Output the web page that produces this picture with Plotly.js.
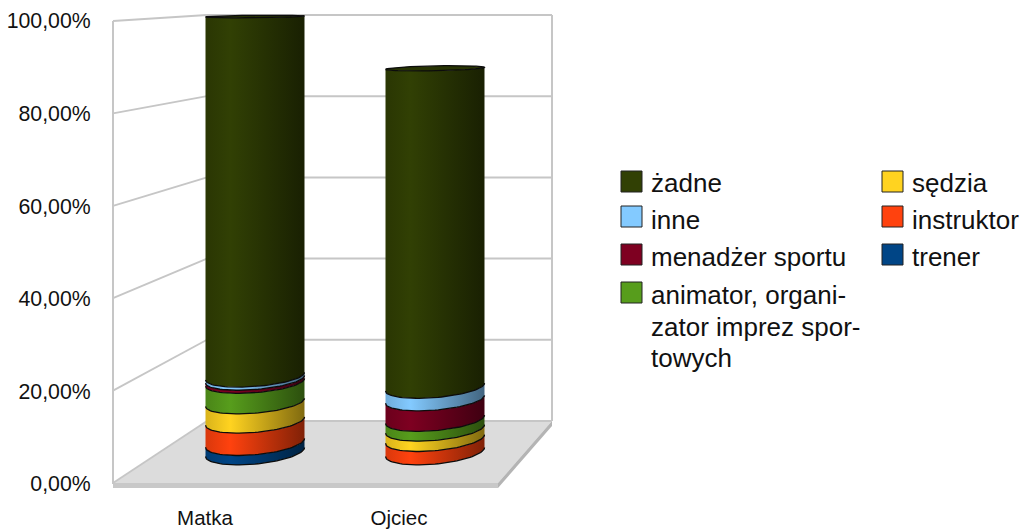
<!DOCTYPE html>
<html>
<head>
<meta charset="utf-8">
<script src="https://cdn.plot.ly/plotly-3.0.1.min.js"></script>
<style>html,body{margin:0;padding:0;background:#fff}</style>
</head>
<body>
<div id="chart" style="width:1023px;height:529px"></div>
<script>
// ---- data ----
const categories = ["Matka", "Ojciec"];
const tickValues = [0, 20, 40, 60, 80, 100];
const tickLabels = ["0,00%", "20,00%", "40,00%", "60,00%", "80,00%", "100,00%"];
const trener     = [2.1, 0];
const instruktor = [5.0, 3.0];
const sedzia     = [4.3, 2.3];
const animator   = [4.6, 2.2];
const menadzer   = [0.7, 4.6];
const inne       = [0.7, 2.8];
const zadne      = [82.6, 73.2];

const seriesNames = ["trener", "instruktor", "sędzia", "animator, organizator imprez sportowych", "menadżer sportu", "inne", "żadne"];
const seriesValues = [trener, instruktor, sedzia, animator, menadzer, inne, zadne];
const seriesColors = ["#004586", "#ff420e", "#ffd320", "#579d1c", "#7e0021", "#83caff", "#314004"];

// ---- page geometry ----
const W = 1023, H = 529;
const px = x => x / W;
const py = y => 1 - y / H;
const FONT = '"Liberation Sans", Arial, sans-serif';
const GRID = "#c6c6c6";

function shade(hex, f) {
  const n = parseInt(hex.slice(1), 16);
  const c = [n >> 16, (n >> 8) & 255, n & 255].map(v => Math.round(v * f));
  return `rgb(${c[0]},${c[1]},${c[2]})`;
}

// cylinder perspective, in value units of the bar axis
const BASE_PX = 452, TOP_PX = 16.5;
const UNIT = (BASE_PX - TOP_PX) / 100;
const halfWidth = 0.275;
const minor = v => (1.2 + (100 - v) * UNIT * 0.025) / UNIT;
const skew = v => (1 + 0.08 * (100 - v)) / UNIT;
const TS = [];
for (let i = 0; i <= 48; i++) TS.push(-Math.cos(Math.PI * i / 48));

function arc(cat, v, sign) {
  const xs = [], ys = [];
  TS.forEach(t => {
    xs.push(cat + t * halfWidth);
    ys.push(v + skew(v) * t / 2 + sign * minor(v) * Math.sqrt(1 - t * t));
  });
  return {xs, ys};
}

const traces = [];
// helper trace carrying the category axis and value axis ticks
traces.push({x: categories, y: [0, 0], xaxis: "x", yaxis: "y", type: "scatter", mode: "markers",
  marker: {opacity: 0, size: 1}, showlegend: false, hoverinfo: "skip"});

categories.forEach((cat, ci) => {
  let base = 0;
  seriesValues.forEach((vals, si) => {
    const v = vals[ci];
    if (v <= 0) return;
    const top = base + v;
    const lo = arc(ci, base, -1), hi = arc(ci, top, -1);
    const c = seriesColors[si];
    traces.push({
      x: lo.xs.concat(hi.xs.slice().reverse()), y: lo.ys.concat(hi.ys.slice().reverse()),
      xaxis: "x2", yaxis: "y2", type: "scatter", mode: "lines", fill: "toself",
      line: {width: 0, color: c},
      fillgradient: {type: "horizontal", colorscale: [[0, shade(c, 0.85)], [0.25, shade(c, 1)], [1, shade(c, 0.5)]]},
      name: seriesNames[si] + " – " + cat, showlegend: false, hoverinfo: "name"
    });
    traces.push({
      x: lo.xs, y: lo.ys, xaxis: "x2", yaxis: "y2", type: "scatter", mode: "lines",
      line: {width: 1.3, color: "#0c0c0c"}, showlegend: false, hoverinfo: "skip"
    });
    base = top;
  });
  // top cap
  const lower = arc(ci, base, -1), upper = arc(ci, base, 1);
  traces.push({
    x: lower.xs.concat(upper.xs.slice().reverse()), y: lower.ys.concat(upper.ys.slice().reverse()),
    xaxis: "x2", yaxis: "y2", type: "scatter", mode: "lines", fill: "toself",
    line: {width: 1.3, color: "#0c0c0c"}, fillcolor: shade(seriesColors[6], 0.8),
    showlegend: false, hoverinfo: "skip"
  });
});

// ---- chart walls and floor ----
const shapes = [];
const path = (pts, close) => "M" + pts.map(p => px(p[0]) + "," + py(p[1])).join("L") + (close ? "Z" : "");
const addPoly = (pts, fill) => shapes.push({type: "path", xref: "paper", yref: "paper", layer: "below",
  path: path(pts, true), fillcolor: fill, line: {width: 0}});
const addLine = (pts, color, width) => shapes.push({type: "path", xref: "paper", yref: "paper", layer: "below",
  path: path(pts, false), line: {color, width}});

addPoly([[113, 483], [207, 421], [552, 421], [498, 483]], "#dcdcdc");
addPoly([[113, 483], [498, 483], [498, 488], [113, 488]], "#c8c8c8");
addPoly([[498, 483], [552, 421], [552, 426], [498, 488]], "#b4b4b4");
tickValues.forEach(v => {
  const yFront = 483 - v * 4.62, yBack = 421 - v * 4.06;
  addLine([[113, yFront], [207, yBack]], GRID, 1.8);
  addLine([[207, yBack], [552, yBack]], GRID, 2);
});
addLine([[113, 21], [113, 484]], GRID, 2);
addLine([[552, 15], [552, 421]], GRID, 2);

// ---- legend ----
const legendRows = [
  {s: 6, x: 621, y: 171, tx: 650, ty: 183, lines: ["żadne"]},
  {s: 5, x: 621, y: 206, tx: 650, ty: 220, lines: ["inne"]},
  {s: 4, x: 621, y: 244, tx: 650, ty: 257, lines: ["menadżer sportu"]},
  {s: 3, x: 621, y: 282, tx: 650, ty: 295, lines: ["animator, organi-", "zator imprez spor-", "towych"]},
  {s: 2, x: 882, y: 171, tx: 911, ty: 183, lines: ["sędzia"]},
  {s: 1, x: 882, y: 206, tx: 911, ty: 220, lines: ["instruktor"]},
  {s: 0, x: 882, y: 244, tx: 911, ty: 257, lines: ["trener"]}
];
const annotations = [];
legendRows.forEach(r => {
  shapes.push({type: "rect", xref: "paper", yref: "paper",
    x0: px(r.x), x1: px(r.x + 21), y0: py(r.y), y1: py(r.y + 21),
    fillcolor: seriesColors[r.s], line: {color: "#222", width: 1}});
  r.lines.forEach((line, i) => annotations.push({xref: "paper", yref: "paper",
    x: px(r.tx), y: py(r.ty + i * 31.5),
    xanchor: "left", yanchor: "middle", align: "left", showarrow: false, text: line,
    borderpad: 0, font: {family: FONT, size: 26, color: "#111"}}));
});

const layout = {
  width: W, height: H, autosize: false,
  margin: {l: 0, r: 0, t: 0, b: 0},
  paper_bgcolor: "#fff", plot_bgcolor: "rgba(0,0,0,0)",
  showlegend: false,
  xaxis: {type: "category", categoryarray: categories, categoryorder: "array", range: [-0.5, 1.5],
    domain: [px(108), px(496)], anchor: "y", showgrid: false, zeroline: false, showline: false,
    ticks: "outside", ticklen: 15, tickcolor: "rgba(0,0,0,0)", tickfont: {family: FONT, size: 20.5, color: "#111"}},
  yaxis: {range: [0, 100], domain: [py(484), py(21)], anchor: "x", tickmode: "array",
    tickvals: tickValues, ticktext: tickLabels, showgrid: false, zeroline: false, showline: false,
    ticks: "outside", ticklen: 12, tickcolor: "rgba(0,0,0,0)", tickfont: {family: FONT, size: 21.3, color: "#111"}},
  xaxis2: {range: [-0.5, 1.5], domain: [px(165), px(525)], anchor: "y2", visible: false, fixedrange: true},
  yaxis2: {range: [-5, 102], domain: [py(BASE_PX + 5 * UNIT), py(BASE_PX - 102 * UNIT)], anchor: "x2", visible: false, fixedrange: true},
  shapes, annotations
};

Plotly.newPlot("chart", traces, layout, {displayModeBar: false, staticPlot: true});
</script>
</body>
</html>
